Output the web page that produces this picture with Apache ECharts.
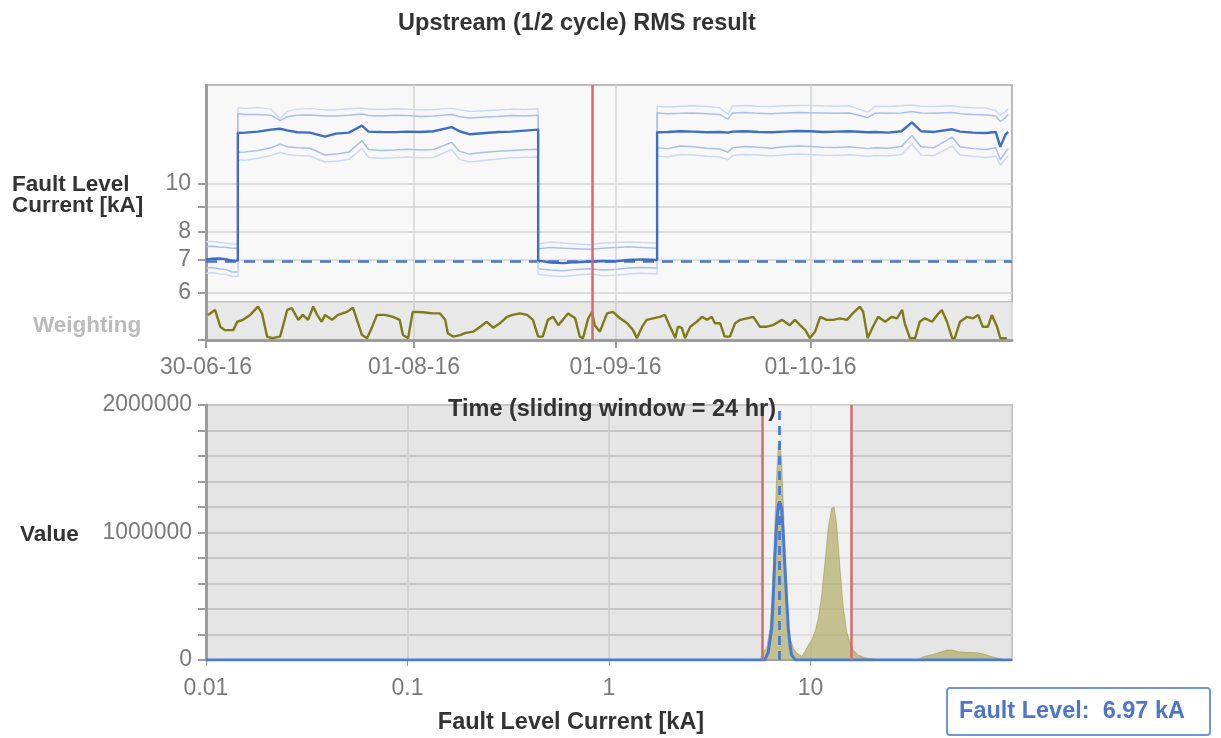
<!DOCTYPE html>
<html><head><meta charset="utf-8">
<script src="https://cdn.jsdelivr.net/npm/echarts@6/dist/echarts.min.js"></script>
<style>html,body{margin:0;padding:0;background:#fff}#c{width:1221px;height:738px}</style>
</head><body><div id="c"></div>
<script>
// ---------- data ----------
const title = 'Upstream (1/2 cycle) RMS result';
const startDate = '2016-06-30';
const endDate = '2016-11-01';
const timeTickDates = ['2016-06-30', '2016-08-01', '2016-09-01', '2016-10-01'];
const cursorDate = '2016-08-28T10:00:00Z';
const faultLevelKA = 6.97;
const windowLowKA = 5.75, windowHighKA = 15.9;
const faultTickLabels = [6, 7, 8, 10];
const faultTicks = [6, 7, 8, 9, 10];
const countTicks = [0, 1000000, 2000000];
const countMax = 2000000;

// days since 30-06-16
const days = [
  0, 1, 2, 3, 4, 4.9, 4.9, 6, 8, 10,
  11.4, 12.5, 14, 16, 18.3, 20, 22, 24, 25, 27,
  29, 31, 33, 35, 37.8, 39, 40.6, 43, 45, 47,
  49, 51.1, 51.1, 53, 55, 57, 59, 61, 63, 65,
  67, 69.4, 69.4, 71, 73, 75, 77, 79, 80.3, 81,
  83, 85, 87, 89, 91, 93, 95, 97, 99, 101.8,
  103, 105, 107, 108.6, 110, 112, 114.8, 116, 118, 120,
  121.5, 122.2, 123, 123.4
];
const meanKA = [
  7.02, 7.04, 7.05, 7.03, 6.98, 6.98, 12.70, 12.72, 12.78, 12.90,
  12.95, 12.85, 12.74, 12.72, 12.48, 12.66, 12.72, 13.15, 12.78, 12.76,
  12.75, 12.78, 12.76, 12.80, 13.05, 12.80, 12.62, 12.70, 12.76, 12.78,
  12.84, 12.90, 6.98, 6.92, 6.90, 6.93, 6.95, 6.97, 6.96, 7.00,
  7.02, 7.00, 12.74, 12.76, 12.80, 12.78, 12.74, 12.76, 12.72, 12.78,
  12.80, 12.76, 12.74, 12.78, 12.82, 12.80, 12.76, 12.78, 12.80, 12.74,
  12.76, 12.72, 12.80, 13.35, 12.80, 12.76, 12.92, 12.78, 12.72, 12.70,
  12.76, 11.90, 12.60, 12.76
];
const upperOuterKA = [
  7.62, 7.64, 7.60, 7.58, 7.55, 7.55, 14.30, 14.25, 14.30, 14.20,
  13.60, 14.05, 14.20, 14.25, 14.15, 14.15, 14.22, 14.28, 14.20, 14.18,
  14.22, 14.20, 14.15, 14.18, 14.25, 14.15, 14.05, 14.10, 14.15, 14.20,
  14.18, 14.22, 7.55, 7.62, 7.58, 7.55, 7.52, 7.58, 7.60, 7.62,
  7.60, 7.58, 14.40, 14.35, 14.40, 14.42, 14.38, 14.30, 13.85, 14.40,
  14.45, 14.40, 14.38, 14.42, 14.45, 14.45, 14.42, 14.40, 14.42, 14.00,
  14.40, 14.38, 14.42, 14.48, 14.40, 14.38, 14.42, 14.35, 14.30, 14.28,
  14.10, 13.80, 14.00, 14.25
];
const upperInnerKA = [
  7.45, 7.47, 7.44, 7.43, 7.40, 7.40, 13.90, 13.85, 13.85, 13.80,
  13.45, 13.70, 13.80, 13.82, 13.75, 13.75, 13.80, 13.88, 13.78, 13.75,
  13.80, 13.78, 13.72, 13.75, 13.85, 13.70, 13.62, 13.68, 13.72, 13.78,
  13.75, 13.80, 7.38, 7.42, 7.40, 7.38, 7.36, 7.40, 7.42, 7.45,
  7.42, 7.40, 13.95, 13.90, 13.92, 13.95, 13.90, 13.85, 13.55, 13.95,
  13.98, 13.92, 13.90, 13.95, 13.98, 13.96, 13.94, 13.92, 13.95, 13.65,
  13.95, 13.92, 13.95, 14.05, 13.95, 13.92, 13.98, 13.90, 13.85, 13.82,
  13.75, 13.40, 13.65, 13.85
];
const lowerInnerKA = [
  6.74, 6.76, 6.72, 6.70, 6.62, 6.62, 11.60, 11.62, 11.70, 11.85,
  12.05, 11.90, 11.85, 11.82, 11.45, 11.50, 11.62, 12.25, 11.75, 11.70,
  11.72, 11.76, 11.72, 11.75, 12.15, 11.65, 11.50, 11.60, 11.66, 11.70,
  11.74, 11.76, 6.72, 6.68, 6.66, 6.70, 6.72, 6.68, 6.70, 6.74,
  6.76, 6.74, 11.85, 11.80, 11.95, 11.90, 11.82, 11.78, 11.60, 11.85,
  11.92, 11.88, 11.82, 11.90, 11.95, 11.92, 11.88, 11.86, 11.90, 11.80,
  11.85, 11.82, 11.92, 12.55, 11.90, 11.85, 12.45, 11.90, 11.80, 11.75,
  11.85, 11.20, 11.60, 11.80
];
const lowerOuterKA = [
  6.58, 6.60, 6.56, 6.55, 6.48, 6.48, 11.20, 11.18, 11.28, 11.42,
  11.60, 11.48, 11.42, 11.40, 11.08, 11.12, 11.22, 11.82, 11.32, 11.28,
  11.30, 11.35, 11.30, 11.32, 11.75, 11.22, 11.08, 11.18, 11.24, 11.30,
  11.32, 11.34, 6.55, 6.50, 6.48, 6.52, 6.56, 6.50, 6.52, 6.56,
  6.58, 6.56, 11.40, 11.35, 11.48, 11.45, 11.38, 11.35, 11.20, 11.42,
  11.48, 11.45, 11.40, 11.46, 11.50, 11.48, 11.44, 11.42, 11.46, 11.38,
  11.42, 11.40, 11.48, 12.05, 11.45, 11.42, 11.95, 11.45, 11.38, 11.32,
  11.40, 10.90, 11.25, 11.40
];

const weightDays = [
  0.3, 1.4, 2.2, 2.9, 4.2, 4.8, 5.7, 6.8, 8.0, 8.6,
  9.4, 10.2, 11.4, 12.5, 13.2, 14.2, 14.9, 15.7, 16.5, 17.1,
  17.8, 18.3, 19.4, 20.3, 21.7, 22.6, 23.4, 24.0, 24.8, 25.5,
  26.3, 27.5, 28.8, 29.8, 30.3, 31.1, 31.8, 33.4, 34.9, 36.0,
  36.8, 37.2, 38.0, 39.1, 39.8, 41.1, 42.2, 43.2, 44.2, 45.2,
  46.3, 47.2, 48.3, 49.4, 50.3, 51.1, 51.8, 52.6, 53.4, 54.2,
  54.9, 55.7, 56.8, 57.5, 58.0, 58.8, 59.4, 59.8, 60.6, 61.7,
  62.6, 63.7, 64.8, 65.7, 66.3, 67.1, 67.8, 68.8, 69.8, 70.6,
  71.4, 72.2, 72.6, 73.2, 73.7, 74.5, 75.5, 76.3, 77.1, 77.8,
  78.3, 79.1, 79.8, 80.6, 81.4, 82.2, 83.2, 84.2, 85.2, 86.3,
  87.2, 88.6, 89.8, 90.6, 91.4, 92.2, 92.9, 93.7, 94.5, 95.5,
  96.5, 97.5, 98.6, 99.5, 100.6, 101.1, 101.8, 102.6, 103.4, 104.5,
  105.5, 106.3, 107.1, 107.5, 108.3, 109.1, 109.8, 110.6, 111.7, 112.5,
  113.2, 114.0, 114.8, 115.2, 116.0, 117.1, 118.0, 118.8, 119.5, 120.3,
  120.9, 121.7, 122.2, 123.2
];
const weightValues = [
  0.66, 0.79, 0.35, 0.26, 0.26, 0.48, 0.53, 0.66, 0.88, 0.71,
  0.09, 0.05, 0.09, 0.79, 0.84, 0.53, 0.66, 0.53, 0.88, 0.66,
  0.48, 0.66, 0.53, 0.66, 0.74, 0.85, 0.44, 0.13, 0.05, 0.32,
  0.66, 0.66, 0.61, 0.53, 0.13, 0.05, 0.74, 0.73, 0.70, 0.70,
  0.53, 0.18, 0.09, 0.13, 0.18, 0.22, 0.35, 0.48, 0.32, 0.44,
  0.61, 0.66, 0.70, 0.66, 0.53, 0.09, 0.09, 0.53, 0.61, 0.39,
  0.53, 0.70, 0.57, 0.09, 0.05, 0.57, 0.74, 0.39, 0.22, 0.70,
  0.74, 0.57, 0.44, 0.26, 0.05, 0.35, 0.53, 0.57, 0.61, 0.66,
  0.35, 0.05, 0.35, 0.32, 0.05, 0.35, 0.48, 0.61, 0.53, 0.61,
  0.44, 0.44, 0.09, 0.09, 0.44, 0.53, 0.57, 0.61, 0.35, 0.35,
  0.39, 0.53, 0.39, 0.53, 0.39, 0.26, 0.05, 0.22, 0.61, 0.53,
  0.53, 0.57, 0.53, 0.70, 0.88, 0.74, 0.05, 0.35, 0.61, 0.48,
  0.61, 0.57, 0.79, 0.44, 0.05, 0.05, 0.48, 0.57, 0.48, 0.66,
  0.79, 0.48, 0.05, 0.05, 0.48, 0.61, 0.57, 0.66, 0.35, 0.35,
  0.66, 0.35, 0.05, 0.05
];

// histogram of fault level current (kA) and counts
const histKA = [
  5.4, 5.61, 5.81, 6.06, 6.30, 6.42, 6.54, 6.66, 6.80, 6.92,
  7.06, 7.19, 7.33, 7.47, 7.62, 7.76, 7.91, 8.22, 8.54, 9.04,
  9.18, 9.39, 9.75, 10.14, 10.53, 10.94, 11.37, 11.81, 12.25, 12.74,
  13.09, 13.49, 14.00, 14.55, 15.13, 15.71, 16.30, 17.26, 18.64, 20.49,
  22, 34, 36.3, 40.7, 44.8, 47.4, 50.2, 54.2, 59.6, 66.8,
  72.1, 79.3, 87.3, 92
];
const histCount = [
  0, 0, 60000, 94000, 250000, 457000, 720000, 1060000, 1450000, 1690000,
  1720000, 1560000, 1220000, 824000, 510000, 275000, 170000, 94000, 55000, 30000,
  40000, 65000, 118000, 157000, 222000, 327000, 510000, 771000, 1035000, 1190000,
  1200000, 1060000, 720000, 408000, 222000, 133000, 78000, 39000, 18000, 8000,
  0, 0, 26000, 44000, 65000, 78000, 78000, 65000, 60000, 57000,
  47000, 26000, 10000, 0
];
// fitted distribution
const fitKA = [0.01, 5.93, 6.17, 6.42, 6.54, 6.66, 6.80, 6.92, 7.03, 7.19, 7.33, 7.47, 7.62, 7.76, 7.91, 8.06, 8.40, 100];
const fitCount = [0, 0, 60000, 250000, 510000, 824000, 1085000, 1215000, 1240000, 1190000, 980000, 720000, 460000, 250000, 118000, 40000, 0, 0];

// ---------- build ----------
const DAY = 86400000;
const t0 = Date.parse(startDate);
const toTime = d => t0 + d * DAY;
const zip = (xs, ys) => xs.map((x, i) => [x, ys[i]]);
const bandLine = (vals) => zip(days.map(toTime), vals);

const FONT = '"Liberation Sans", Arial, sans-serif';
const BOLD = 'bold 23.5px ' + FONT;
const tickColor = '#7a7a7a';
const axisDark = '#9c9c9c';
const pad = n => String(n).padStart(2, '0');
const fmtDate = v => { const d = new Date(v); return pad(d.getUTCDate()) + '-' + pad(d.getUTCMonth() + 1) + '-' + String(d.getUTCFullYear()).slice(2); };
const timeTicks = timeTickDates.map(s => Date.parse(s));
const tMin = Date.parse(startDate), tMax = Date.parse(endDate);
const cursorT = Date.parse(cursorDate);
const red = '#d66a6a';

const gridL = 206, gridW = 806;

const option = {
  animation: false,
  backgroundColor: '#ffffff',
  grid: [
    { left: gridL, top: 85, width: gridW, height: 217, show: true, backgroundColor: '#f8f8f8', borderColor: '#bcbcbc', borderWidth: 2 },
    { left: gridL, top: 302, width: gridW, height: 38, show: true, backgroundColor: '#e8e8e8', borderColor: '#c4c4c4', borderWidth: 1 },
    { left: gridL, top: 405, width: gridW, height: 255, show: true, backgroundColor: '#e5e5e5', borderColor: '#bcbcbc', borderWidth: 2 }
  ],
  xAxis: [
    { type: 'value', gridIndex: 0, min: tMin, max: tMax, scale: true,
      axisLine: { show: false }, axisLabel: { show: false },
      axisTick: { show: false, customValues: timeTicks },
      splitLine: { show: true, lineStyle: { color: '#d6d6d6', width: 1.5 } } },
    { type: 'value', gridIndex: 1, min: tMin, max: tMax, scale: true,
      axisLine: { show: true, onZero: false, lineStyle: { color: axisDark, width: 3 } },
      axisTick: { show: true, customValues: timeTicks, length: 8, lineStyle: { color: axisDark, width: 2 } },
      axisLabel: { customValues: timeTicks, formatter: fmtDate, color: tickColor, fontSize: 23, fontFamily: FONT, margin: 16, hideOverlap: false },
      splitLine: { show: true, lineStyle: { color: '#cfcfcf', width: 1.5 } } },
    { type: 'log', logBase: 10, gridIndex: 2, min: 0.01, max: 100,
      axisLine: { show: true, onZero: false, lineStyle: { color: axisDark, width: 2 } },
      axisTick: { show: true, length: 6, lineStyle: { color: axisDark } },
      axisLabel: { color: tickColor, fontSize: 23, fontFamily: FONT, margin: 17, showMaxLabel: false, formatter: v => String(+(+v).toPrecision(3)) },
      splitLine: { show: true, lineStyle: { color: '#cccccc', width: 1.5 } } }
  ],
  yAxis: [
    { type: 'log', logBase: 10, gridIndex: 0, min: windowLowKA, max: windowHighKA,
      axisLine: { show: true, lineStyle: { color: axisDark, width: 3 } },
      axisTick: { show: true, customValues: faultTicks, length: 8, lineStyle: { color: axisDark, width: 2 } },
      axisLabel: { customValues: faultTickLabels, color: tickColor, fontSize: 23, fontFamily: FONT, margin: 15, formatter: v => String(Math.round(+v)) },
      splitLine: { show: true, lineStyle: { color: '#d4d4d4', width: 1.5 } } },
    { type: 'value', gridIndex: 1, min: 0, max: 1,
      axisLine: { show: true, lineStyle: { color: axisDark, width: 3 } },
      axisTick: { show: true, customValues: [0], length: 8, lineStyle: { color: axisDark, width: 2 } },
      axisLabel: { show: false }, splitLine: { show: false } },
    { type: 'value', gridIndex: 2, min: 0, max: countMax, interval: 200000,
      axisLine: { show: true, lineStyle: { color: axisDark, width: 3 } },
      axisTick: { show: true, length: 8, lineStyle: { color: axisDark, width: 2 } },
      axisLabel: { color: tickColor, fontSize: 23, fontFamily: FONT, margin: 14, formatter: v => countTicks.includes(+v) ? String(v) : '' },
      splitLine: { show: true, lineStyle: { color: '#c6c6c6', width: 2 } } }
  ],
  series: [
    { type: 'line', xAxisIndex: 0, yAxisIndex: 0, data: bandLine(upperOuterKA), showSymbol: false, lineStyle: { color: '#ccd9f3', width: 1.5 }, z: 2 },
    { type: 'line', xAxisIndex: 0, yAxisIndex: 0, data: bandLine(upperInnerKA), showSymbol: false, lineStyle: { color: '#a9bfea', width: 1.5 }, z: 2 },
    { type: 'line', xAxisIndex: 0, yAxisIndex: 0, data: bandLine(lowerInnerKA), showSymbol: false, lineStyle: { color: '#a9bfea', width: 1.5 }, z: 2 },
    { type: 'line', xAxisIndex: 0, yAxisIndex: 0, data: bandLine(lowerOuterKA), showSymbol: false, lineStyle: { color: '#ccd9f3', width: 1.5 }, z: 2 },
    { type: 'line', xAxisIndex: 0, yAxisIndex: 0, data: bandLine(meanKA), showSymbol: false, lineStyle: { color: '#3e6cc6', width: 2.4 }, z: 3,
      markLine: { silent: true, z: 1, symbol: ['none', 'none'], label: { show: false },
        data: [ { yAxis: faultLevelKA, lineStyle: { color: '#4a74c8', width: 2.6, type: [11, 8] } } ] } },
    { type: 'line', xAxisIndex: 0, yAxisIndex: 0, data: [[cursorT, faultLevelKA]], showSymbol: false, lineStyle: { width: 0 },
      markLine: { silent: true, z: 6, symbol: ['none', 'none'], label: { show: false },
        data: [ { xAxis: cursorT, lineStyle: { color: red, width: 2.5, type: 'solid' } } ] } },
    { type: 'line', xAxisIndex: 1, yAxisIndex: 1, data: zip(weightDays.map(toTime), weightValues), showSymbol: false, lineStyle: { color: '#7d7a18', width: 2.4 },
      markLine: { silent: true, z: 6, symbol: ['none', 'none'], label: { show: false },
        data: [ { xAxis: cursorT, lineStyle: { color: red, width: 2.5, type: 'solid' } } ] } },
    // lighter analysis window behind the histogram
    { type: 'line', xAxisIndex: 2, yAxisIndex: 2, data: [[windowLowKA, countMax], [windowHighKA, countMax]], showSymbol: false, silent: true,
      lineStyle: { width: 0 }, areaStyle: { color: 'rgba(255,255,255,0.62)', origin: 'start' }, z: 1 },
    { type: 'line', xAxisIndex: 2, yAxisIndex: 2, data: zip(histKA, histCount), showSymbol: false,
      lineStyle: { width: 1, color: 'rgba(150,145,45,0.5)' }, areaStyle: { color: 'rgba(150,145,45,0.7)', origin: 'start' }, z: 2 },
    { type: 'line', xAxisIndex: 2, yAxisIndex: 2, data: zip(fitKA, fitCount), showSymbol: false, lineStyle: { color: '#4a7bd0', width: 3 }, z: 3,
      markLine: { silent: true, z: 6, symbol: ['none', 'none'], label: { show: false },
        data: [
          { xAxis: windowLowKA, lineStyle: { color: red, width: 2.5, type: 'solid' } },
          { xAxis: windowHighKA, lineStyle: { color: red, width: 2.5, type: 'solid' } },
          { xAxis: faultLevelKA, lineStyle: { color: '#4a7bd0', width: 2.8, type: [9, 6] } }
        ] } }
  ],
  graphic: [
    { type: 'text', x: 577, y: 24, z: 100, style: { text: title, font: BOLD, fill: '#333333', align: 'center', verticalAlign: 'middle' } },
    { type: 'text', x: 12, y: 195, z: 100, style: { text: 'Fault Level\nCurrent [kA]', font: 'bold 22.5px ' + FONT, fill: '#333333', align: 'left', verticalAlign: 'middle', lineHeight: 21 } },
    { type: 'text', x: 33, y: 326, z: 100, style: { text: 'Weighting', font: 'bold 22.5px ' + FONT, fill: '#bbbbbb', align: 'left', verticalAlign: 'middle' } },
    { type: 'text', x: 20, y: 535, z: 100, style: { text: 'Value', font: 'bold 22.5px ' + FONT, fill: '#333333', align: 'left', verticalAlign: 'middle' } },
    { type: 'text', x: 612, y: 410, z: 100, style: { text: 'Time (sliding window = 24 hr)', font: BOLD, fill: '#333333', align: 'center', verticalAlign: 'middle' } },
    { type: 'text', x: 571, y: 723, z: 100, style: { text: 'Fault Level Current [kA]', font: BOLD, fill: '#333333', align: 'center', verticalAlign: 'middle' } },
    { type: 'rect', z: 100, shape: { x: 947, y: 688, width: 263, height: 47, r: 3 }, style: { fill: '#ffffff', stroke: '#7095d8', lineWidth: 2 } },
    { type: 'text', x: 1072, y: 712, z: 101, style: { text: 'Fault Level:  ' + faultLevelKA.toFixed(2) + ' kA', font: BOLD, fill: '#4f76c6', align: 'center', verticalAlign: 'middle' } }
  ]
};

const chart = echarts.init(document.getElementById('c'), null, { renderer: 'canvas' });
chart.setOption(option);
</script>
</body></html>
